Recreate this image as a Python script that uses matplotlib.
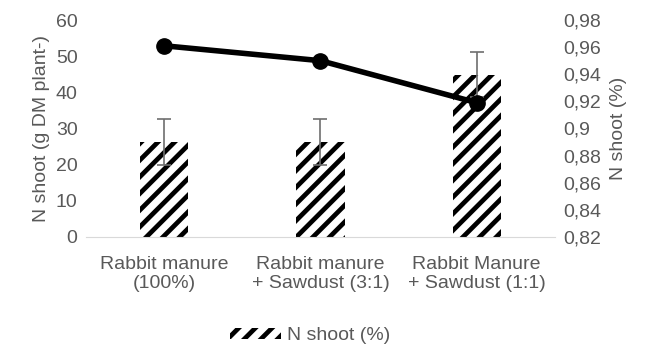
import matplotlib.pyplot as plt
from matplotlib.ticker import FuncFormatter

plt.rcParams['font.family'] = ['Liberation Sans', 'DejaVu Sans']
plt.rcParams['hatch.linewidth'] = 3.4

# data
categories = ["Rabbit manure\n(100%)", "Rabbit manure\n+ Sawdust (3:1)", "Rabbit Manure\n+ Sawdust (1:1)"]
n_shoot_g = [26.2, 26.2, 44.9]
n_shoot_err = [6.3, 6.3, 6.3]
n_shoot_pct = [0.961, 0.950, 0.919]

grey = '#595959'
fs = 14

fig = plt.figure(figsize=(6.46, 3.51), dpi=100)
ax = fig.add_axes([0.133, 0.325, 0.726, 0.618])
x = list(range(len(categories)))

ax.bar(x, n_shoot_g, width=0.31, color='white', edgecolor='black', linewidth=0,
       hatch='//', label='N shoot (%)', zorder=2)
ax.errorbar(x, n_shoot_g, yerr=n_shoot_err, fmt='none', ecolor='#6e6e6e',
            elinewidth=1.2, capsize=5, capthick=1.2, zorder=3)
ax.set_ylim(0, 60)
ax.set_yticks(range(0, 61, 10))
ax.set_xlim(-0.5, 2.5)
ax.set_xticks(x)
ax.set_xticklabels(categories, fontsize=fs, color=grey, linespacing=1.15)
ax.set_ylabel('N shoot (g DM plant-)', fontsize=fs, color=grey, labelpad=4)

ax2 = ax.twinx()
ax2.plot(x, n_shoot_pct, color='black', lw=4, marker='o', ms=11, zorder=4)
ax2.set_ylim(0.82, 0.98)
ax2.set_yticks([0.82 + 0.02 * i for i in range(9)])
ax2.yaxis.set_major_formatter(FuncFormatter(lambda v, p: ('%g' % round(v, 2)).replace('.', ',')))
ax2.set_ylabel('N shoot (%)', fontsize=fs, color=grey, labelpad=6)

for a in (ax, ax2):
    for s in ('top', 'left', 'right'):
        a.spines[s].set_visible(False)
    a.tick_params(axis='both', length=0, labelsize=fs, colors=grey, pad=6)
ax2.spines['bottom'].set_visible(False)
ax.spines['bottom'].set_color('#d9d9d9')
ax.tick_params(axis='x', pad=14)

handles, labels = ax.get_legend_handles_labels()
fig.legend(handles, labels, loc='center', bbox_to_anchor=(0.48, 1 - 336 / 351),
           frameon=False, fontsize=fs, labelcolor=grey, handlelength=2.6,
           handleheight=0.5, handletextpad=0.3)

fig.savefig('out.png', dpi=100)
